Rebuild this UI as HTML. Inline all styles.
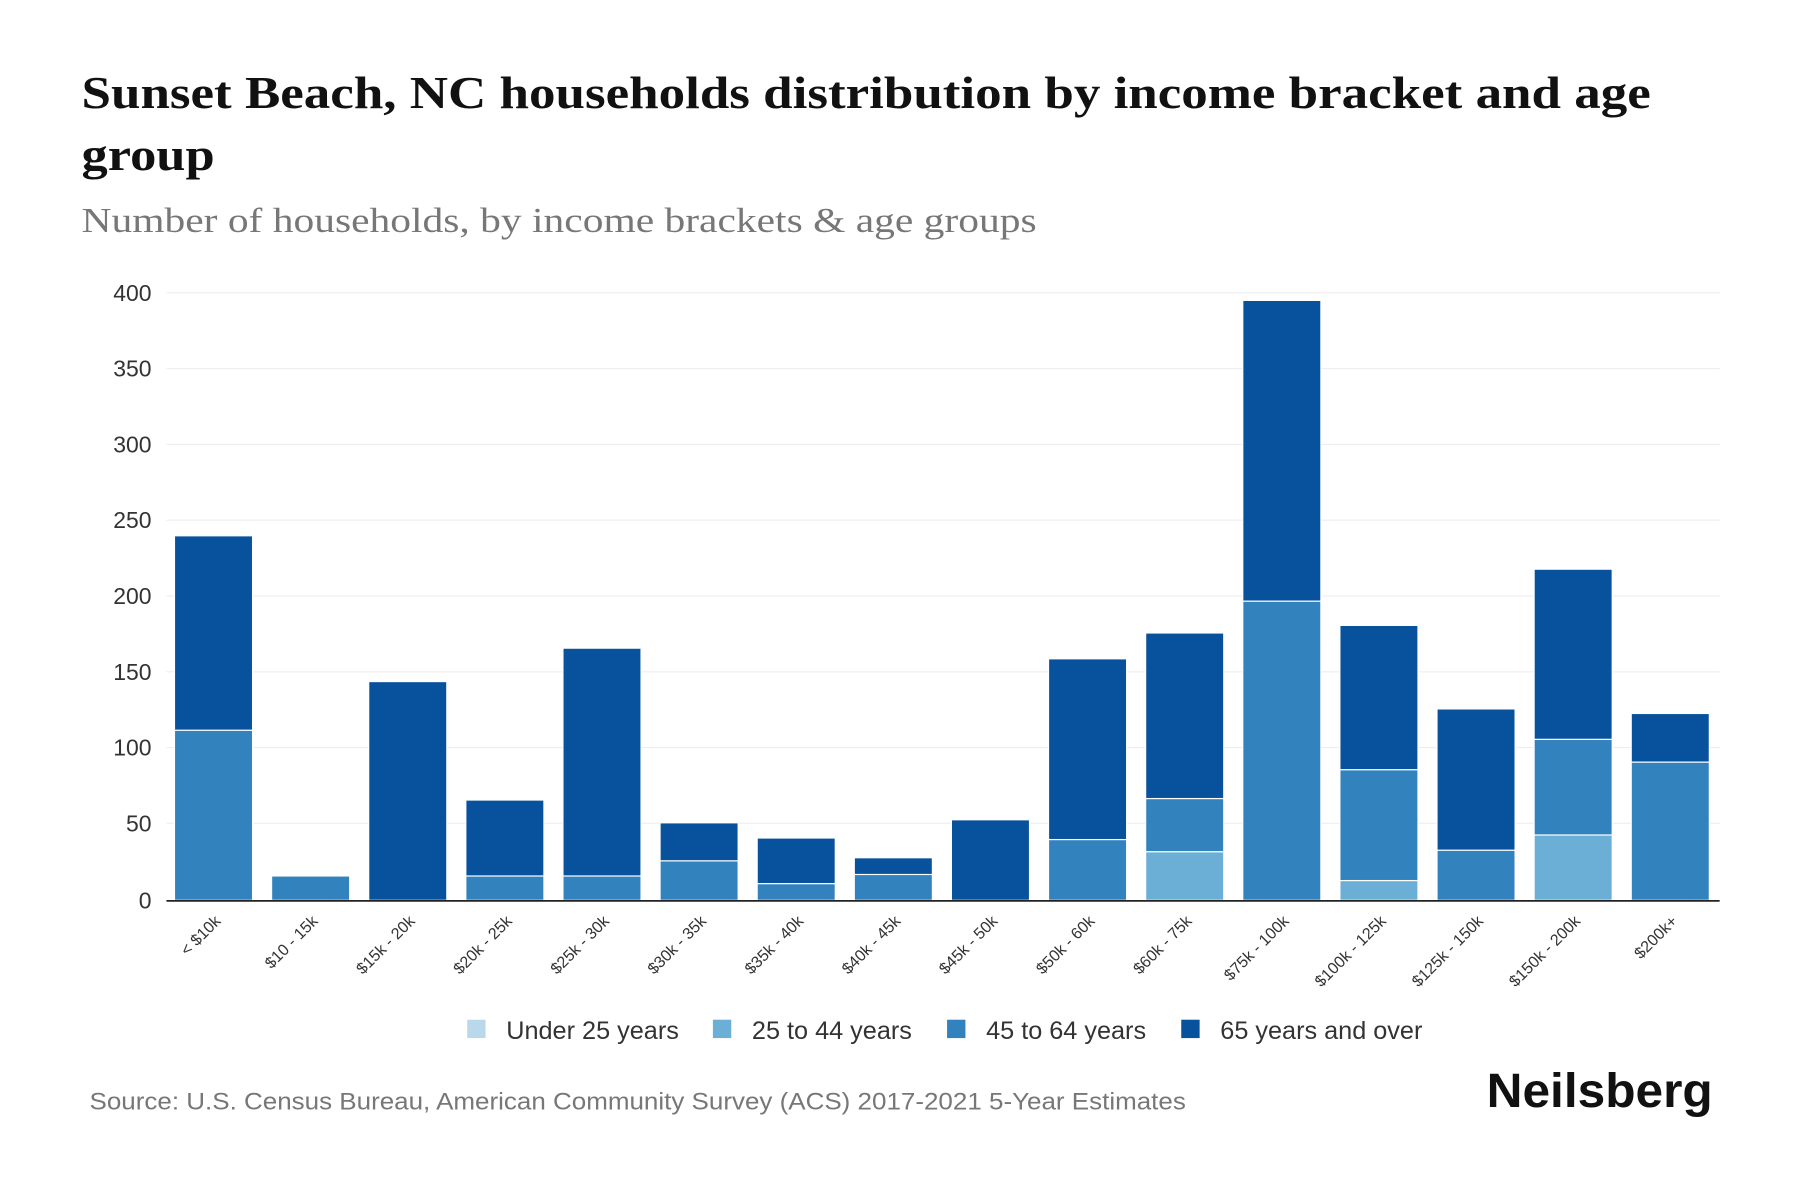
<!DOCTYPE html>
<html><head><meta charset="utf-8"><style>
html,body{margin:0;padding:0;background:#fff;width:1800px;height:1200px;overflow:hidden}
svg{display:block}
</style></head><body>
<svg width="1800" height="1200" viewBox="0 0 1568 1045" preserveAspectRatio="none" xmlns="http://www.w3.org/2000/svg">
<g font-family="Liberation Serif, serif">
<text x="71" y="94" font-size="40" font-weight="bold" fill="#111" textLength="1367" lengthAdjust="spacingAndGlyphs">Sunset Beach, NC households distribution by income bracket and age</text>
<text x="71" y="148" font-size="40" font-weight="bold" fill="#111" textLength="116" lengthAdjust="spacingAndGlyphs">group</text>
<text x="71" y="202" font-size="30" fill="#777" textLength="832" lengthAdjust="spacingAndGlyphs">Number of households, by income brackets &amp; age groups</text>
</g>
<g stroke="#eee" stroke-width="1">
<line x1="145" x2="1498" y1="255" y2="255"/><line x1="145" x2="1498" y1="321" y2="321"/><line x1="145" x2="1498" y1="387" y2="387"/><line x1="145" x2="1498" y1="453" y2="453"/><line x1="145" x2="1498" y1="519" y2="519"/><line x1="145" x2="1498" y1="585" y2="585"/><line x1="145" x2="1498" y1="651" y2="651"/><line x1="145" x2="1498" y1="717" y2="717"/>
</g>
<g font-family="Liberation Sans, sans-serif" font-size="20" fill="#333" text-anchor="end">
<text x="132" y="262">400</text><text x="132" y="328">350</text><text x="132" y="394">300</text><text x="132" y="460">250</text><text x="132" y="526">200</text><text x="132" y="592">150</text><text x="132" y="658">100</text><text x="132" y="724">50</text><text x="132" y="791">0</text>
</g>
<g id="bars" stroke="#fff" stroke-width="1"></g>
<line x1="145" x2="1498" y1="784.5" y2="784.5" stroke="#222" stroke-width="1.5"/>
<g id="labels" font-family="Liberation Sans, sans-serif" font-size="14" fill="#333" text-anchor="end"></g>
<g font-family="Liberation Sans, sans-serif" font-size="22" fill="#333">
<rect x="407" y="888" width="16" height="16" fill="#b9d9eb"/><text x="441" y="905">Under 25 years</text>
<rect x="621" y="888" width="16" height="16" fill="#6baed6"/><text x="655" y="905">25 to 44 years</text>
<rect x="825" y="888" width="16" height="16" fill="#3282bd"/><text x="859" y="905">45 to 64 years</text>
<rect x="1029" y="888" width="16" height="16" fill="#08519c"/><text x="1063" y="905">65 years and over</text>
</g>
<text x="78" y="966" font-family="Liberation Sans, sans-serif" font-size="21" fill="#777" textLength="955" lengthAdjust="spacingAndGlyphs">Source: U.S. Census Bureau, American Community Survey (ACS) 2017-2021 5-Year Estimates</text>
<text x="1295" y="964" font-family="Liberation Sans, sans-serif" font-size="42" font-weight="bold" fill="#111" textLength="197" lengthAdjust="spacingAndGlyphs">Neilsberg</text>
</svg>
<script>
var d=[["< $10k",0,0,112,128],["$10 - 15k",0,0,16,0],["$15k - 20k",0,0,0,144],["$20k - 25k",0,0,16,50],["$25k - 30k",0,0,16,150],["$30k - 35k",0,0,26,25],["$35k - 40k",0,0,11,30],["$40k - 45k",0,0,17,11],["$45k - 50k",0,0,0,53],["$50k - 60k",0,0,40,119],["$60k - 75k",0,32,35,109],["$75k - 100k",0,0,197,198],["$100k - 125k",0,13,73,95],["$125k - 150k",0,0,33,93],["$150k - 200k",0,43,63,112],["$200k+",0,0,91,32]];
var c=["#b9d9eb","#6baed6","#3282bd","#08519c"];
var ns="http://www.w3.org/2000/svg",B=document.getElementById("bars"),L=document.getElementById("labels");
d.forEach(function(r,i){var cx=186+i*84.6,y=784,k=529/400;
for(var j=1;j<5;j++){if(!r[j])continue;var h=r[j]*k;var e=document.createElementNS(ns,"rect");
e.setAttribute("x",cx-34);e.setAttribute("width",68);e.setAttribute("y",y-h);e.setAttribute("height",h);e.setAttribute("fill",c[j-1]);B.appendChild(e);y-=h;}
var t=document.createElementNS(ns,"text");t.setAttribute("transform","translate("+(cx+7)+",803) rotate(-45)");t.textContent=r[0];L.appendChild(t);});
</script>
</body></html>
